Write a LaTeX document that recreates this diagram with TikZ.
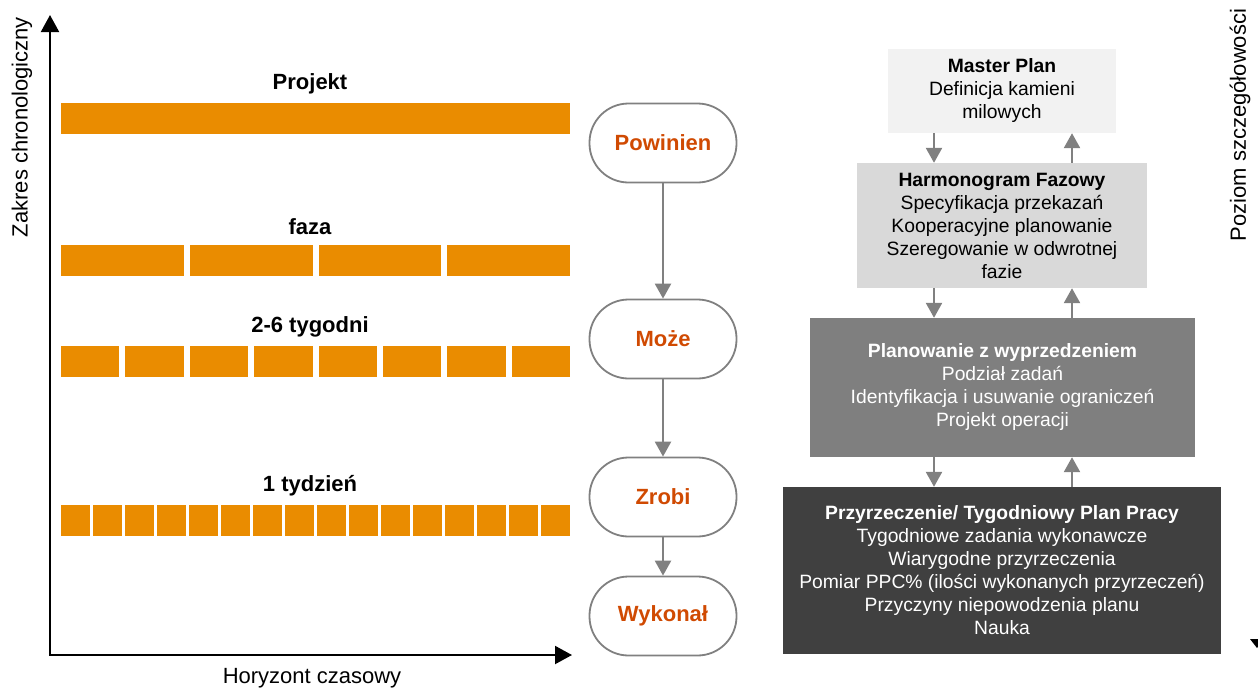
\documentclass[tikz,border=0pt]{standalone}
\usepackage{fontspec}
\setmainfont{Liberation Sans}
\usetikzlibrary{arrows.meta}
\definecolor{barorange}{RGB}{234,140,0}
\definecolor{pilltext}{RGB}{208,74,2}
\definecolor{linegray}{RGB}{128,128,128}
\definecolor{boxlight}{RGB}{242,242,242}
\definecolor{boxmid}{RGB}{217,217,217}
\definecolor{boxgray}{RGB}{127,127,127}
\definecolor{boxdark}{RGB}{64,64,64}

\begin{document}
\begin{tikzpicture}[x=1pt,y=-1pt,
        bar/.style={fill=barorange},
        lbl/.style={font=\fontsize{22}{26}\selectfont\bfseries},
        axislbl/.style={font=\fontsize{22}{26}\selectfont},
        axis/.style={line width=2pt,{Triangle[width=18pt,length=17pt]}-{Triangle[width=18pt,length=17pt]}},
        pill/.style={draw=linegray,line width=1.8pt,rounded corners=39pt,minimum width=147pt,minimum height=79pt,
            text=pilltext,font=\fontsize{22}{26}\selectfont\bfseries},
        conn/.style={draw=linegray,line width=2.4pt,-{Triangle[width=16pt,length=15pt]}},
        lvl/.style={align=center,inner sep=0pt,font=\fontsize{19.3}{23}\selectfont}]
    \useasboundingbox (0,0) rectangle (1258,689);

    % axes
    \coordinate (ytip) at (50,15);
    \coordinate (origin) at (50,655);
    \coordinate (xtip) at (572,655);
    \draw[axis] (ytip) -- (origin) -- (xtip);
    \node[axislbl,rotate=90] (zakres) at (22,127) {Zakres chronologiczny};
    \node[axislbl,anchor=base] (horyzont) at (312,683) {Horyzont czasowy};

    % bars
    \foreach \n/\g/\yb in {1/0/103,4/6/245,8/6/346,16/3/505}{
        \pgfmathsetmacro\w{(509-(\n-1)*\g)/\n}
        \foreach \i in {1,...,\n}
            \fill[bar] ({61+(\i-1)*(\w+\g)},\yb) rectangle ++(\w,31);
    }
    \node[lbl] (projekt) at (310,84) {Projekt};
    \node[lbl] (faza) at (310,227) {faza};
    \node[lbl] (tygodni) at (310,327) {2-6 tygodni};
    \node[lbl] (tydzien) at (310,486) {1 tydzień};

    % pills
    \node[pill] (powinien) at (663,143) {Powinien};
    \node[pill] (moze) at (663,339) {Może};
    \node[pill] (zrobi) at (663,497) {Zrobi};
    \node[pill] (wykonal) at (663,616) {Wykonał};
    \draw[conn] (powinien) -- (moze);
    \draw[conn] (moze) -- (zrobi);
    \draw[conn] (zrobi) -- (wykonal);

    % levels
    \node[lvl,fill=boxlight,minimum width=228pt,minimum height=84pt] (master) at (1002,91)
        {\textbf{Master Plan}\\Definicja kamieni\\milowych};
    \node[lvl,fill=boxmid,minimum width=290pt,minimum height=125pt] (harmonogram) at (1002,225.5)
        {\textbf{Harmonogram Fazowy}\\Specyfikacja przekazań\\Kooperacyjne planowanie\\Szeregowanie w odwrotnej\\fazie};
    \node[lvl,fill=boxgray,text=white,minimum width=385pt,minimum height=139pt] (planowanie) at (1002.5,387.5)
        {\textbf{Planowanie z wyprzedzeniem}\\Podział zadań\\Identyfikacja i usuwanie ograniczeń\\Projekt operacji};
    \node[lvl,fill=boxdark,text=white,minimum width=438pt,minimum height=167pt] (przyrzeczenie) at (1002,570.5)
        {\textbf{Przyrzeczenie/ Tygodniowy Plan Pracy}\\Tygodniowe zadania wykonawcze\\Wiarygodne przyrzeczenia\\Pomiar PPC\% (ilości wykonanych przyrzeczeń)\\Przyczyny niepowodzenia planu\\Nauka};

    \coordinate (dn) at (934,0);
    \coordinate (up) at (1072,0);
    \draw[conn] (master.south -| dn) -- (harmonogram.north -| dn);
    \draw[conn] (harmonogram.north -| up) -- (master.south -| up);
    \draw[conn] (harmonogram.south -| dn) -- (planowanie.north -| dn);
    \draw[conn] (planowanie.north -| up) -- (harmonogram.south -| up);
    \draw[conn] (planowanie.south -| dn) -- (przyrzeczenie.north -| dn);
    \draw[conn] (przyrzeczenie.north -| up) -- (planowanie.south -| up);

    \node[axislbl,rotate=90] (poziom) at (1240,125) {Poziom szczegółowości};
    \fill (1250,639) -- (1264,639) -- (1257,648) -- cycle;
\end{tikzpicture}
\end{document}
